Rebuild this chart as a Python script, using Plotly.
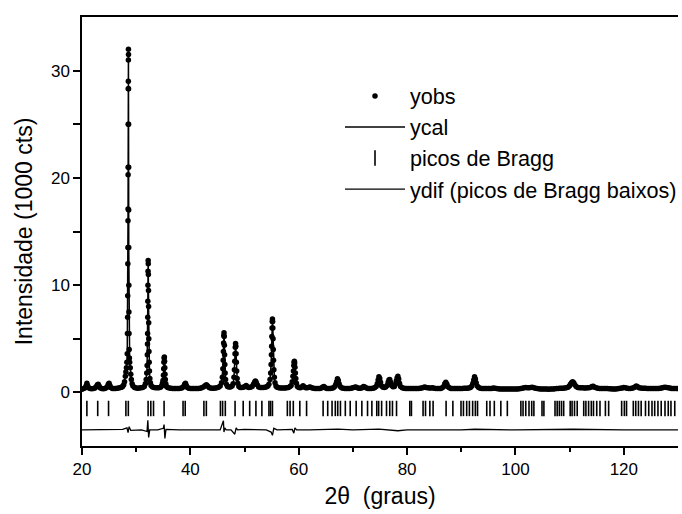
import plotly.graph_objects as go

# ---- observed / calculated pattern (2theta in degrees, intensity in 1000 cts)
two_theta = [
    20.0, 20.3, 20.6, 20.75, 20.9, 21.05, 21.2, 21.5, 21.8, 22.1,
    22.4, 22.65, 22.85, 23.0, 23.15, 23.35, 23.6, 23.9, 24.2, 24.5,
    24.7, 24.85, 25.0, 25.15, 25.3, 25.6, 25.9, 26.2, 26.5, 26.8,
    27.1, 27.3, 27.5, 27.7, 27.85, 28.0, 28.1, 28.2, 28.28, 28.35,
    28.39, 28.42, 28.44, 28.46, 28.475, 28.49, 28.50, 28.51, 28.52, 28.53,
    28.54, 28.55, 28.56, 28.57, 28.58, 28.59, 28.60, 28.61, 28.62, 28.63,
    28.645, 28.66, 28.68, 28.71, 28.75, 28.8, 28.9, 29.0, 29.1, 29.25,
    29.4, 29.7, 30.0, 30.3, 30.6, 30.9, 31.2, 31.5, 31.7, 31.85,
    31.95, 32.02, 32.06, 32.09, 32.11, 32.13, 32.15, 32.17, 32.19, 32.21,
    32.23, 32.25, 32.27, 32.29, 32.31, 32.33, 32.36, 32.4, 32.45, 32.52,
    32.62, 32.75, 33.0, 33.3, 33.6, 33.9, 34.2, 34.5, 34.7, 34.85,
    34.95, 35.03, 35.08, 35.12, 35.16, 35.2, 35.24, 35.28, 35.32, 35.38,
    35.47, 35.6, 35.8, 36.1, 36.4, 36.7, 37.0, 37.3, 37.6, 37.9,
    38.2, 38.5, 38.75, 38.95, 39.1, 39.25, 39.45, 39.7, 40.0, 40.3,
    40.6, 40.9, 41.2, 41.5, 41.8, 42.1, 42.4, 42.7, 42.95, 43.2,
    43.45, 43.7, 44.0, 44.3, 44.6, 44.9, 45.2, 45.5, 45.75, 45.9,
    46.0, 46.06, 46.1, 46.14, 46.18, 46.21, 46.24, 46.28, 46.32, 46.36,
    46.42, 46.5, 46.65, 46.85, 47.1, 47.4, 47.7, 47.9, 48.05, 48.13,
    48.19, 48.24, 48.29, 48.34, 48.39, 48.44, 48.49, 48.55, 48.63, 48.75,
    48.95, 49.2, 49.5, 49.8, 50.05, 50.3, 50.55, 50.8, 51.1, 51.4,
    51.65, 51.85, 52.0, 52.15, 52.35, 52.6, 52.9, 53.2, 53.5, 53.8,
    54.1, 54.3, 54.5, 54.7, 54.82, 54.9, 54.96, 55.0, 55.04, 55.08,
    55.12, 55.15, 55.18, 55.22, 55.26, 55.3, 55.35, 55.41, 55.5, 55.62,
    55.8, 56.0, 56.3, 56.6, 56.9, 57.2, 57.5, 57.8, 58.1, 58.4,
    58.6, 58.8, 58.93, 59.02, 59.09, 59.15, 59.2, 59.25, 59.31, 59.38,
    59.46, 59.57, 59.75, 60.0, 60.3, 60.55, 60.8, 61.05, 61.3, 61.6,
    61.9, 62.1, 62.4, 62.7, 63.0, 63.3, 63.6, 63.9, 64.2, 64.45,
    64.65, 64.9, 65.2, 65.5, 65.8, 66.1, 66.4, 66.65, 66.85, 67.0,
    67.15, 67.3, 67.45, 67.65, 67.9, 68.2, 68.5, 68.8, 69.1, 69.4,
    69.7, 70.0, 70.3, 70.55, 70.8, 71.1, 71.4, 71.7, 71.95, 72.2,
    72.5, 72.8, 73.1, 73.4, 73.7, 74.0, 74.3, 74.5, 74.65, 74.8,
    74.95, 75.1, 75.3, 75.55, 75.8, 76.05, 76.3, 76.5, 76.65, 76.8,
    76.95, 77.15, 77.4, 77.65, 77.85, 78.0, 78.15, 78.3, 78.45, 78.6,
    78.8, 79.1, 79.4, 79.7, 80.0, 80.3, 80.6, 80.9, 81.2, 81.5,
    81.8, 82.1, 82.4, 82.7, 83.0, 83.25, 83.5, 83.8, 84.1, 84.4,
    84.7, 85.0, 85.3, 85.6, 85.9, 86.2, 86.5, 86.75, 86.95, 87.15,
    87.35, 87.55, 87.8, 88.1, 88.4, 88.7, 89.0, 89.3, 89.6, 89.9,
    90.2, 90.5, 90.8, 91.1, 91.4, 91.7, 91.95, 92.15, 92.3, 92.45,
    92.6, 92.75, 92.95, 93.2, 93.5, 93.8, 94.1, 94.4, 94.7, 95.0,
    95.3, 95.6, 95.9, 96.2, 96.5, 96.8, 97.1, 97.4, 97.7, 98.0,
    98.3, 98.6, 98.9, 99.2, 99.5, 99.8, 100.1, 100.4, 100.7, 101.0,
    101.3, 101.6, 101.9, 102.2, 102.5, 102.8, 103.1, 103.4, 103.7, 104.0,
    104.3, 104.6, 104.9, 105.2, 105.5, 105.8, 106.1, 106.4, 106.7, 107.0,
    107.3, 107.6, 107.9, 108.2, 108.5, 108.8, 109.1, 109.4, 109.7, 109.95,
    110.15, 110.35, 110.55, 110.75, 110.95, 111.2, 111.5, 111.8, 112.1, 112.4,
    112.7, 113.0, 113.3, 113.6, 113.9, 114.15, 114.35, 114.6, 114.9, 115.2,
    115.5, 115.8, 116.1, 116.4, 116.7, 117.0, 117.3, 117.6, 117.9, 118.2,
    118.5, 118.8, 119.1, 119.4, 119.7, 120.0, 120.3, 120.6, 120.9, 121.2,
    121.5, 121.8, 122.05, 122.3, 122.55, 122.8, 123.1, 123.4, 123.7, 124.0,
    124.3, 124.6, 124.9, 125.2, 125.5, 125.8, 126.1, 126.4, 126.7, 127.0,
    127.3, 127.6, 127.9, 128.2, 128.5, 128.8, 129.1, 129.4, 129.7, 130.0,
]
y_obs = [
    0.30, 0.35, 0.42, 0.60, 0.85, 0.62, 0.42, 0.36, 0.34, 0.36,
    0.40, 0.55, 0.70, 0.75, 0.60, 0.42, 0.36, 0.34, 0.36, 0.42,
    0.55, 0.75, 0.85, 0.65, 0.45, 0.37, 0.35, 0.36, 0.38, 0.40,
    0.45, 0.48, 0.55, 0.70, 1.0, 1.5, 1.9, 2.3, 2.8, 3.6,
    5.5, 7.0, 9.0, 12.0, 13.5, 16.0, 17.1, 20.3, 21.0, 25.0,
    28.3, 29.0, 31.0, 32.0, 31.5, 28.3, 25.0, 21.0, 17.0, 13.5,
    10.0, 7.5, 5.5, 4.0, 3.2, 2.8, 2.3, 1.7, 1.2, 0.8,
    0.6, 0.45, 0.40, 0.38, 0.40, 0.42, 0.45, 0.55, 0.8, 1.2,
    1.8, 2.5, 3.5, 4.5, 5.5, 7.0, 8.5, 10.0, 11.3, 12.3,
    12.0, 11.0, 9.5, 8.0, 6.5, 5.0, 3.8, 2.8, 2.0, 1.3,
    0.9, 0.65, 0.50, 0.45, 0.42, 0.42, 0.42, 0.48, 0.6, 0.85,
    1.1, 1.6, 2.2, 2.8, 3.2, 3.3, 2.9, 2.3, 1.7, 1.2,
    0.8, 0.55, 0.45, 0.40, 0.38, 0.36, 0.35, 0.35, 0.35, 0.36,
    0.38, 0.42, 0.55, 0.75, 0.85, 0.65, 0.45, 0.38, 0.35, 0.35,
    0.35, 0.35, 0.35, 0.36, 0.38, 0.42, 0.50, 0.62, 0.70, 0.60,
    0.45, 0.40, 0.38, 0.38, 0.40, 0.42, 0.48, 0.6, 0.9, 1.4,
    2.2, 3.0, 3.8, 4.6, 5.3, 5.55, 5.2, 4.4, 3.5, 2.6,
    1.8, 1.2, 0.75, 0.55, 0.50, 0.50, 0.60, 0.8, 1.4, 2.1,
    2.9, 3.6, 4.2, 4.55, 4.3, 3.6, 2.8, 2.0, 1.3, 0.85,
    0.55, 0.45, 0.45, 0.48, 0.55, 0.65, 0.50, 0.45, 0.48, 0.55,
    0.75, 0.95, 1.06, 0.95, 0.70, 0.50, 0.45, 0.45, 0.45, 0.48,
    0.52, 0.6, 0.75, 1.2, 1.8, 2.6, 3.5, 4.3, 5.2, 6.0,
    6.6, 6.85, 6.6, 6.0, 5.0, 4.0, 3.0, 2.1, 1.4, 0.9,
    0.6, 0.48, 0.42, 0.40, 0.40, 0.40, 0.40, 0.42, 0.45, 0.55,
    0.65, 1.0, 1.5, 2.0, 2.5, 2.8, 2.9, 2.75, 2.35, 1.8,
    1.3, 0.85, 0.55, 0.45, 0.42, 0.50, 0.62, 0.50, 0.42, 0.42,
    0.48, 0.50, 0.42, 0.38, 0.35, 0.35, 0.35, 0.36, 0.40, 0.50,
    0.55, 0.42, 0.37, 0.36, 0.37, 0.38, 0.42, 0.55, 0.75, 1.0,
    1.28, 1.1, 0.80, 0.55, 0.42, 0.38, 0.36, 0.35, 0.35, 0.36,
    0.38, 0.42, 0.48, 0.50, 0.42, 0.38, 0.38, 0.42, 0.55, 0.50,
    0.40, 0.36, 0.35, 0.35, 0.38, 0.42, 0.55, 0.8, 1.15, 1.45,
    1.3, 0.95, 0.60, 0.48, 0.45, 0.50, 0.65, 0.95, 1.15, 1.2,
    0.95, 0.65, 0.52, 0.55, 0.75, 1.05, 1.35, 1.5, 1.25, 0.85,
    0.55, 0.42, 0.38, 0.36, 0.35, 0.35, 0.36, 0.36, 0.35, 0.35,
    0.35, 0.36, 0.38, 0.40, 0.45, 0.50, 0.46, 0.42, 0.40, 0.40,
    0.42, 0.38, 0.35, 0.35, 0.35, 0.37, 0.42, 0.55, 0.80, 0.95,
    0.75, 0.52, 0.42, 0.37, 0.35, 0.35, 0.35, 0.35, 0.35, 0.36,
    0.37, 0.38, 0.38, 0.38, 0.40, 0.45, 0.60, 0.85, 1.15, 1.45,
    1.25, 0.90, 0.60, 0.45, 0.38, 0.36, 0.35, 0.35, 0.35, 0.35,
    0.35, 0.37, 0.40, 0.38, 0.35, 0.33, 0.32, 0.32, 0.32, 0.32,
    0.32, 0.32, 0.32, 0.32, 0.32, 0.32, 0.32, 0.32, 0.33, 0.35,
    0.38, 0.42, 0.45, 0.44, 0.42, 0.45, 0.48, 0.42, 0.38, 0.35,
    0.33, 0.32, 0.32, 0.32, 0.32, 0.31, 0.30, 0.31, 0.32, 0.32,
    0.33, 0.35, 0.37, 0.38, 0.38, 0.39, 0.40, 0.42, 0.48, 0.60,
    0.75, 0.90, 1.0, 0.90, 0.72, 0.55, 0.45, 0.42, 0.42, 0.42,
    0.40, 0.40, 0.42, 0.44, 0.48, 0.55, 0.58, 0.48, 0.42, 0.38,
    0.36, 0.35, 0.35, 0.35, 0.35, 0.35, 0.34, 0.33, 0.32, 0.32,
    0.32, 0.33, 0.35, 0.38, 0.40, 0.45, 0.42, 0.38, 0.35, 0.36,
    0.38, 0.42, 0.50, 0.60, 0.52, 0.44, 0.40, 0.38, 0.38, 0.38,
    0.36, 0.35, 0.35, 0.35, 0.35, 0.35, 0.35, 0.36, 0.38, 0.40,
    0.45, 0.48, 0.45, 0.42, 0.40, 0.37, 0.35, 0.35, 0.35, 0.35,
]
y_cal = list(y_obs)  # refined profile overlaps the observed one

# ---- Bragg reflection positions (2theta)
bragg_pos = [
    20.9, 22.9, 24.9, 28.1, 28.55, 32.2, 32.7, 33.2, 35.15, 38.65,
    39.05, 42.5, 42.95, 45.55, 45.95, 46.45, 48.25, 49.75, 50.95, 52.1,
    53.2, 54.5, 54.8, 55.15, 57.9, 58.4, 59.0, 60.2, 61.45, 64.5,
    65.35, 66.15, 66.75, 67.2, 67.7, 68.6, 69.5, 70.6, 71.65, 72.7,
    73.5, 74.4, 74.75, 75.3, 76.2, 76.8, 77.3, 78.05, 80.5, 80.8,
    82.95, 83.4, 84.2, 84.8, 87.2, 88.45, 89.95, 90.4, 91.0, 91.5,
    92.1, 92.6, 93.0, 94.7, 95.3, 96.1, 97.3, 98.5, 101.0, 101.4,
    101.9, 102.5, 103.0, 103.4, 104.9, 105.25, 107.3, 107.7, 108.1, 108.5,
    108.9, 110.1, 110.45, 110.9, 111.4, 112.6, 113.0, 113.5, 114.0, 114.4,
    115.0, 115.6, 116.6, 117.2, 119.6, 120.1, 120.5, 121.75, 122.2, 122.7,
    123.2, 124.0, 124.6, 125.2, 125.7, 126.3, 126.9, 127.6, 128.2, 128.7,
    129.4,
]
bragg_level = -1.5

# ---- difference curve (yobs - ycal), plotted below the pattern
dif_theta = [20.0, 25.0, 27.5, 28.3, 28.5, 28.7, 29.0, 31.0, 32.0, 32.15,
             32.3, 32.5, 34.0, 35.0, 35.15, 35.3, 35.5, 38.0, 40.0, 45.5,
             46.1, 46.2, 46.35, 46.6, 47.5, 48.2, 48.45, 48.7, 50.0, 52.0,
             54.0, 54.9, 55.15, 55.4, 56.0, 58.8, 59.1, 59.3, 59.6, 62.0,
             67.2, 70.0, 74.8, 78.3, 80.0, 90.0, 92.5, 100.0, 110.6, 120.0,
             130.0]
y_dif = [0.0, 0.05, 0.05, 0.2, -0.25, 0.3, -0.05, 0.0, -0.15, 0.9,
         -0.7, 0.0, 0.0, 0.15, 0.5, -0.8, 0.05, 0.0, 0.0, 0.0,
         0.85, -0.2, 0.2, 0.0, 0.0, -0.4, 0.2, 0.0, 0.05, 0.0,
         0.0, -0.2, -0.5, 0.15, 0.0, 0.05, -0.3, 0.2, 0.0, 0.0,
         0.08, 0.0, 0.08, -0.08, 0.0, 0.0, 0.06, 0.0, 0.06, 0.0,
         0.0]
dif_offset = -3.5

assert len(two_theta) == len(y_obs)
assert len(dif_theta) == len(y_dif)

FONT = "Liberation Sans, Arial, Helvetica, sans-serif"

fig = go.Figure()
fig.add_trace(go.Scatter(
    x=two_theta, y=y_obs, mode="markers", name="yobs",
    marker=dict(color="black", size=5.5), legendgroup="a"))
fig.add_trace(go.Scatter(
    x=two_theta, y=y_cal, mode="lines", name="ycal",
    line=dict(color="black", width=1.5), legendgroup="b"))
fig.add_trace(go.Scatter(
    x=bragg_pos, y=[bragg_level] * len(bragg_pos), mode="markers",
    name="picos de Bragg", legendgroup="c",
    marker=dict(symbol="line-ns", size=11, color="black",
                line=dict(color="black", width=1.6))))
fig.add_trace(go.Scatter(
    x=dif_theta, y=[dif_offset + v for v in y_dif], mode="lines",
    name="ydif (picos de Bragg baixos)", legendgroup="d",
    line=dict(color="black", width=1.3)))

fig.update_layout(
    width=682, height=514,
    margin=dict(l=82, r=0, t=17, b=68),
    paper_bgcolor="white", plot_bgcolor="white",
    font=dict(family=FONT, color="black", size=16),
    showlegend=True,
    legend=dict(x=0.433, y=0.864, xanchor="left", yanchor="top",
                bgcolor="rgba(0,0,0,0)", font=dict(size=21.6, family=FONT),
                itemwidth=60, traceorder="grouped", tracegroupgap=0),
    xaxis=dict(
        range=[20, 130], showgrid=False, zeroline=False,
        showline=True, linecolor="black", linewidth=1.5, mirror=True,
        ticks="outside", ticklen=7, tickwidth=1.5, tickcolor="black",
        tickvals=[20, 40, 60, 80, 100, 120],
        minor=dict(tickvals=[30, 50, 70, 90, 110], ticklen=4,
                   tickwidth=1.5, tickcolor="black", ticks="outside"),
        tickfont=dict(size=17),
        title=dict(text="2θ  (graus)", font=dict(size=23), standoff=10),
    ),
    yaxis=dict(
        range=[-5, 35], showgrid=False, zeroline=False,
        showline=True, linecolor="black", linewidth=1.5,
        ticks="outside", ticklen=7, tickwidth=1.5, tickcolor="black",
        tickvals=[0, 10, 20, 30],
        minor=dict(tickvals=[5, 15, 25], ticklen=7,
                   tickwidth=1.5, tickcolor="black", ticks="outside"),
        tickfont=dict(size=17),
        title=dict(text="Intensidade (1000 cts)", font=dict(size=23), standoff=12),
    ),
)

fig.write_html("out.html")
